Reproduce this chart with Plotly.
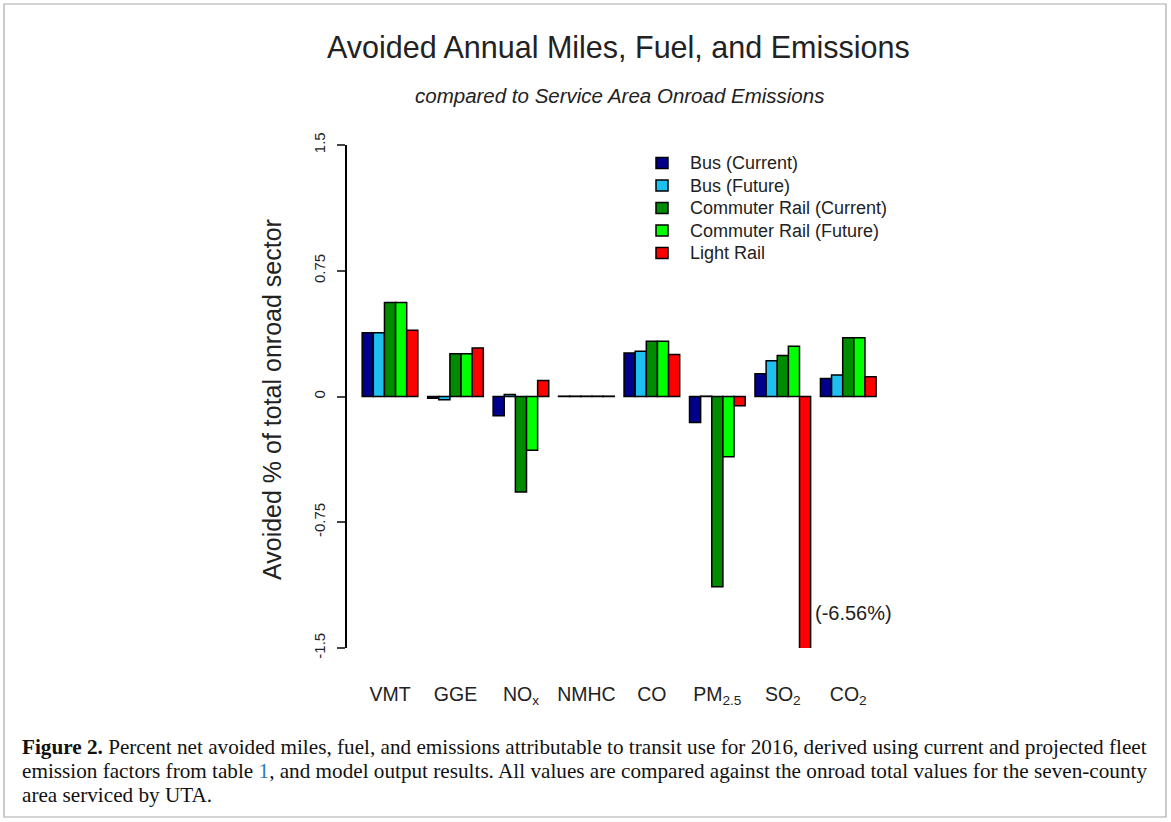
import plotly.graph_objects as go

categories = ["VMT", "GGE", "NO<sub>x</sub>", "NMHC", "CO", "PM<sub>2.5</sub>", "SO<sub>2</sub>", "CO<sub>2</sub>"]
series_names = ["Bus (Current)", "Bus (Future)", "Commuter Rail (Current)", "Commuter Rail (Future)", "Light Rail"]
bus_current = [0.38, -0.01, -0.115, 0.002, 0.26, -0.155, 0.135, 0.108]
bus_future = [0.38, -0.02, 0.012, 0.002, 0.27, 0.002, 0.213, 0.128]
rail_current = [0.56, 0.255, -0.57, 0.002, 0.33, -1.135, 0.245, 0.35]
rail_future = [0.56, 0.255, -0.32, 0.002, 0.33, -0.36, 0.30, 0.35]
light_rail = [0.395, 0.29, 0.095, 0.002, 0.25, -0.055, -6.56, 0.118]
colors = ["#00008B", "#1EC0F0", "#008B00", "#00FF00", "#FF0000"]
y_ticks = [-1.5, -0.75, 0, 0.75, 1.5]
y_tick_labels = ["-1.5", "-0.75", "0", "0.75", "1.5"]

fig = go.Figure()
for name, vals, col in zip(series_names, [bus_current, bus_future, rail_current, rail_future, light_rail], colors):
    fig.add_trace(go.Bar(x=categories, y=vals, name=name, showlegend=False,
                         marker=dict(color=col, line=dict(color="black", width=1.5))))

W, H = 1171, 822
ml, mr, mt, mb = 347, 290, 145, 174
pw, ph = W - ml - mr, H - mt - mb

def px(x):
    return (x - ml) / pw

def py(y):
    return (H - mb - y) / ph

fig.update_layout(
    width=W, height=H,
    margin=dict(l=ml, r=mr, t=mt, b=mb),
    paper_bgcolor="white", plot_bgcolor="white",
    barmode="group", bargap=0.15, bargroupgap=0,
    font=dict(family="Liberation Sans, Arial", color="black"),
    showlegend=False,
    xaxis=dict(range=[-0.657, 7.5], showline=False, ticks="", showgrid=False,
               zeroline=False, tickfont=dict(size=19.5, color="#222"), ticklabelstandoff=32),
    yaxis=dict(range=[-1.5, 1.5], tickvals=y_ticks, ticktext=y_tick_labels,
               tickangle=-90, ticks="outside", ticklen=8, tickwidth=1.5,
               showline=True, linecolor="black", linewidth=1.5, showgrid=False,
               zeroline=False, tickfont=dict(size=15, color="#222"), ticklabelstandoff=6),
)

# y-axis title
fig.add_annotation(text="Avoided % of total onroad sector", xref="paper", yref="paper",
                   x=px(272), y=py(400), textangle=-90, showarrow=False,
                   font=dict(size=25, color="#222"), xanchor="center", yanchor="middle")

# legend drawn as swatches + labels
leg_y0, leg_dy = 163, 22.5
for i, (name, col) in enumerate(zip(series_names, colors)):
    yc = leg_y0 + i * leg_dy
    fig.add_shape(type="rect", xref="paper", yref="paper",
                  x0=px(656), x1=px(668), y0=py(yc - 5.5), y1=py(yc + 5.5),
                  fillcolor=col, line=dict(color="black", width=1.5))
    fig.add_annotation(text=name, xref="paper", yref="paper", x=px(688), y=py(yc),
                       xanchor="left", yanchor="middle", showarrow=False,
                       font=dict(size=18, color="#222"))

fig.add_annotation(text="Avoided Annual Miles, Fuel, and Emissions", xref="paper", yref="paper",
                   x=px(618), y=py(47), showarrow=False, font=dict(size=30.5, color="#222"),
                   xanchor="center", yanchor="middle")
fig.add_annotation(text="<i>compared to Service Area Onroad Emissions</i>", xref="paper", yref="paper",
                   x=px(619), y=py(95), showarrow=False, font=dict(size=20.5, color="#222"),
                   xanchor="center", yanchor="middle")
fig.add_annotation(text="(-6.56%)", xref="x", yref="y", x=6.46, y=-1.29, showarrow=False,
                   xanchor="left", yanchor="middle", font=dict(size=20, color="#222"))

caption_lines = [
    "<b>Figure 2.</b> Percent net avoided miles, fuel, and emissions attributable to transit use for 2016, derived using current and projected fleet",
    "emission factors from table <span style='color:#2A7AB8'>1</span>, and model output results. All values are compared against the onroad total values for the seven-county",
    "area serviced by UTA.",
]
caption_y = [747, 771, 795]
for line, yy in zip(caption_lines, caption_y):
    fig.add_annotation(text=line, xref="paper", yref="paper", x=px(20), y=py(yy),
                       xanchor="left", yanchor="middle", align="left", showarrow=False,
                       font=dict(family="Liberation Serif, Times New Roman", size=21.2, color="#111"))

fig.add_shape(type="rect", xref="paper", yref="paper", x0=px(4), x1=px(1166), y0=py(4), y1=py(817),
              line=dict(color="#AAAAAA", width=1.2), fillcolor="rgba(0,0,0,0)", layer="below")

fig.write_html("out.html", config={"displayModeBar": False},
               post_script="document.body.style.margin='0';document.body.style.overflow='hidden';")
